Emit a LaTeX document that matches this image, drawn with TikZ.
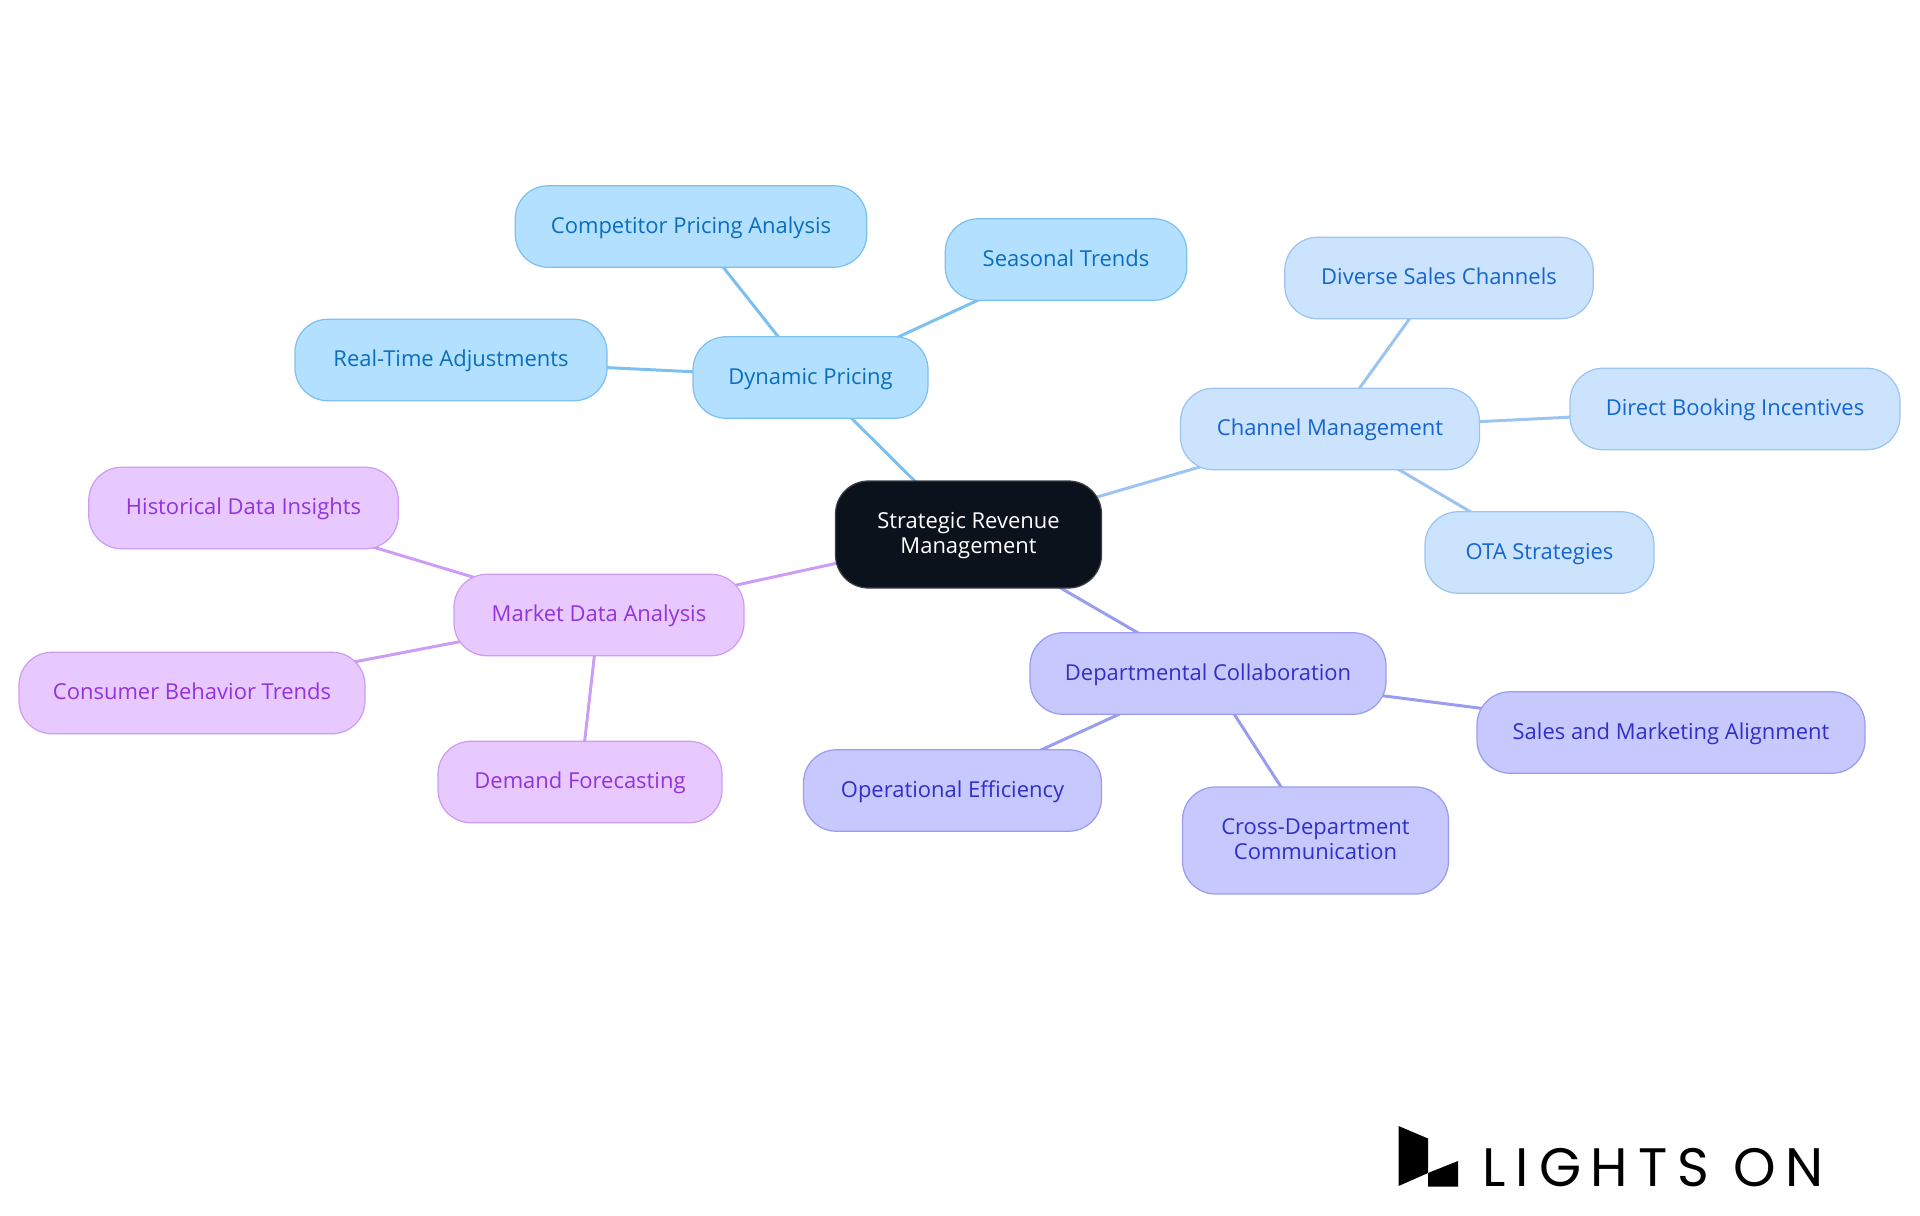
\documentclass[tikz,border=0pt]{standalone}
\usepackage{fontspec}
\setmainfont{Open Sans}
\newfontfamily\logofont[LetterSpace=18]{Poppins}
\usetikzlibrary{backgrounds}
\definecolor{rootfill}{HTML}{0B121B}
\definecolor{rootline}{HTML}{3A4048}
\definecolor{dynfill}{HTML}{B3E0FF}
\definecolor{dynline}{HTML}{7CC0F0}
\definecolor{dyntext}{HTML}{0A6EBD}
\definecolor{chanfill}{HTML}{CCE3FD}
\definecolor{chanline}{HTML}{9CC4F2}
\definecolor{chantext}{HTML}{1565D0}
\definecolor{deptfill}{HTML}{C7C8FD}
\definecolor{deptline}{HTML}{9A9CF0}
\definecolor{depttext}{HTML}{3030C8}
\definecolor{markfill}{HTML}{E8C9FF}
\definecolor{markline}{HTML}{CD9CF5}
\definecolor{marktext}{HTML}{9333DB}
\tikzset{
  mind/.style={rounded corners=.66cm,inner sep=0pt,align=center,line width=.7pt,
    minimum height=1.63cm,text height=10.8pt,text depth=3.4pt,font=\fontsize{12.5}{14.2}\selectfont},
  tall/.style={minimum height=2.14cm,text height=24.4pt,text depth=3pt},
  rootbox/.style={mind,tall,draw=rootline,fill=rootfill,text=white},
  dynbox/.style={mind,draw=dynline,fill=dynfill,text=dyntext},
  chanbox/.style={mind,draw=chanline,fill=chanfill,text=chantext},
  deptbox/.style={mind,draw=deptline,fill=deptfill,text=depttext},
  markbox/.style={mind,draw=markline,fill=markfill,text=marktext}
}
\begin{document}
\begin{tikzpicture}
    \useasboundingbox (0,0) rectangle (38.4,-24.3);
    %the centre
    \node[rootbox,minimum width=5.32cm] (root) at (19.37,-10.69) {Strategic Revenue\\Management};
    %the pricing branch
    \node[dynbox,minimum width=4.70cm] (dyn) at (16.21,-7.55) {Dynamic Pricing};
    \node[dynbox,minimum width=7.03cm] (comp) at (13.82,-4.53) {Competitor Pricing Analysis};
    \node[dynbox,minimum width=4.83cm] (seas) at (21.32,-5.19) {Seasonal Trends};
    \node[dynbox,minimum width=6.24cm] (real) at (9.02,-7.20) {Real-Time Adjustments};
    %the channel branch
    \node[chanbox,minimum width=5.98cm] (chan) at (26.60,-8.58) {Channel Management};
    \node[chanbox,minimum width=6.17cm] (div) at (28.78,-5.56) {Diverse Sales Channels};
    \node[chanbox,minimum width=6.60cm] (direct) at (34.70,-8.18) {Direct Booking Incentives};
    \node[chanbox,minimum width=4.58cm] (ota) at (30.79,-11.05) {OTA Strategies};
    %the departments branch
    \node[deptbox,minimum width=7.12cm] (dept) at (24.16,-13.47) {Departmental Collaboration};
    \node[deptbox,minimum width=7.76cm] (sales) at (33.42,-14.65) {Sales and Marketing Alignment};
    \node[deptbox,minimum width=5.96cm] (oper) at (19.05,-15.81) {Operational Efficiency};
    \node[deptbox,tall,minimum width=5.32cm] (cross) at (26.31,-16.81) {Cross-Department\\Communication};
    %the market branch
    \node[markbox,minimum width=5.80cm] (mark) at (11.98,-12.30) {Market Data Analysis};
    \node[markbox,minimum width=6.19cm] (hist) at (4.87,-10.16) {Historical Data Insights};
    \node[markbox,minimum width=6.92cm] (cons) at (3.84,-13.86) {Consumer Behavior Trends};
    \node[markbox,minimum width=5.68cm] (dem) at (11.60,-15.64) {Demand Forecasting};
%the connectors
    \begin{pgfonlayer}{background}
    \begin{scope}[line width=1.7pt]
       \begin{scope}[every path/.style={draw=dynline}]
          \draw (root.center) -- (dyn.center);
          \draw (dyn.center) -- (comp.center);
          \draw (dyn.center) -- (seas.center);
          \draw (dyn.center) -- (real.center);
       \end{scope}
       \begin{scope}[every path/.style={draw=chanline}]
          \draw (root.center) -- (chan.center);
          \draw (chan.center) -- (div.center);
          \draw (chan.center) -- (direct.center);
          \draw (chan.center) -- (ota.center);
       \end{scope}
       \begin{scope}[every path/.style={draw=deptline}]
          \draw (root.center) -- (dept.center);
          \draw (dept.center) -- (sales.center);
          \draw (dept.center) -- (oper.center);
          \draw (dept.center) -- (cross.center);
       \end{scope}
       \begin{scope}[every path/.style={draw=markline}]
          \draw (root.center) -- (mark.center);
          \draw (mark.center) -- (hist.center);
          \draw (mark.center) -- (cons.center);
          \draw (mark.center) -- (dem.center);
       \end{scope}
    \end{scope}
    \end{pgfonlayer}
%the logo
    \fill[black] (27.97,-22.52) -- (28.56,-22.77) -- (28.56,-23.46) -- (27.97,-23.72) -- cycle;
    \fill[black] (28.56,-23.46) -- (29.16,-23.22) -- (29.16,-23.73) -- (28.56,-23.73) -- cycle;
    \node[anchor=base west,inner sep=0pt,font=\logofont\fontsize{30.8}{30.8}\selectfont] (logotext) at (29.65,-23.72) {LIGHTS ON};
\end{tikzpicture}
\end{document}
